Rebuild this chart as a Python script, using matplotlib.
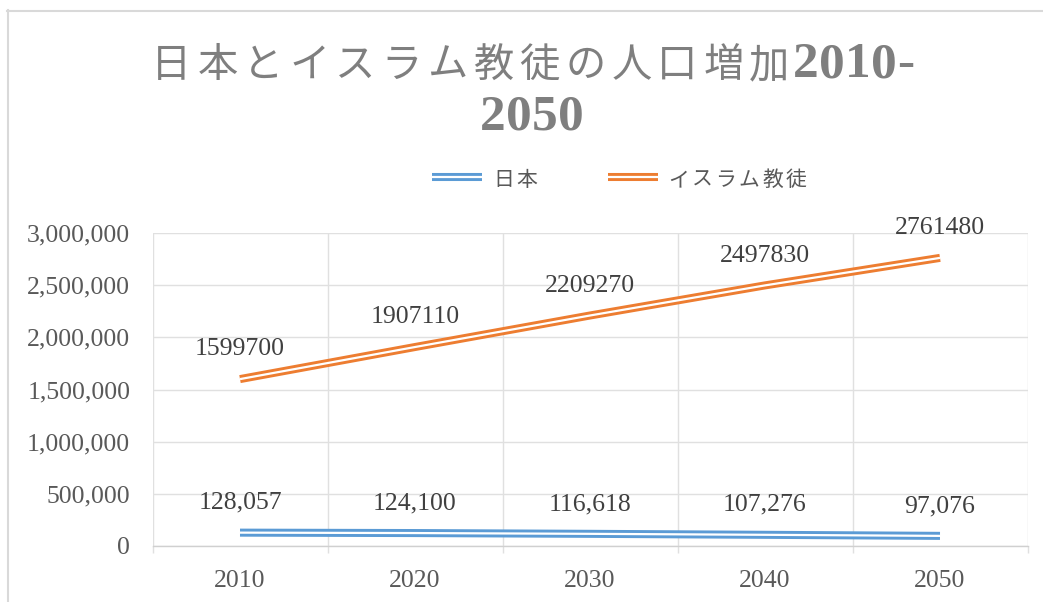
import numpy as np
import matplotlib
matplotlib.use('Agg')
import matplotlib.pyplot as plt
from matplotlib.lines import Line2D
from matplotlib.ticker import FuncFormatter

plt.rcParams['font.family'] = ['Liberation Serif', 'Noto Sans CJK JP']

years = ['2010', '2020', '2030', '2040', '2050']
japan = [128057, 124100, 116618, 107276, 97076]
islam = [1599700, 1907110, 2209270, 2497830, 2761480]
series_names = ['日本', 'イスラム教徒']
title_lines = ['日本とイスラム教徒の人口増加2010-', '2050']

BLUE = '#5b9bd5'
ORANGE = '#ed7d31'
GRID = '#e0e0e0'
W, H = 1043, 602

fig = plt.figure(figsize=(W / 100, H / 100), dpi=100)
ax = fig.add_axes([152.5 / W, 56 / H, 875 / W, 313 / H])

x = np.arange(len(years))


def double_line(ax, xs, ys, color, **kw):
    # excel style compound line: thick coloured stroke, white stroke on top
    ax.plot(xs, ys, color=color, lw=5.8, solid_capstyle='butt', zorder=3, **kw)
    ax.plot(xs, ys, color='white', lw=1.6, solid_capstyle='butt', zorder=4, **kw)


double_line(ax, x, japan, BLUE)
double_line(ax, x, islam, ORANGE)

for xi, v in zip(x, japan):
    ax.annotate(f'{v:,}', (xi, v), xytext=(0, 21.5), textcoords='offset points',
                ha='center', va='center', fontsize=18.5, color='#404040')
for xi, v in zip(x, islam):
    ax.annotate(f'{v}', (xi, v), xytext=(0, 21.5), textcoords='offset points',
                ha='center', va='center', fontsize=18.5, color='#404040')

ax.set_ylim(0, 3000000)
ax.set_yticks(np.arange(0, 3000001, 500000))
ax.yaxis.set_major_formatter(FuncFormatter(lambda v, p: f'{v:,.0f}'))
ax.set_xlim(-0.5, len(years) - 0.5)
ax.set_xticks(x)
ax.set_xticklabels(years)
ax.set_xticks(np.arange(-0.5, len(years)), minor=True)

ax.tick_params(axis='y', length=0, pad=16, labelsize=18.5, labelcolor='#595959')
ax.tick_params(axis='x', which='major', length=0, pad=17, labelsize=18.5, labelcolor='#595959')
ax.tick_params(axis='x', which='minor', length=5, width=1, color=GRID, direction='out')

ax.grid(axis='y', color=GRID, lw=1)
ax.grid(axis='x', which='minor', color=GRID, lw=1)
ax.set_axisbelow(True)
for s in ['top', 'left', 'right']:
    ax.spines[s].set_visible(False)
ax.spines['bottom'].set_color('#d0d0d0')
ax.spines['bottom'].set_linewidth(1)


def spaced_text(s, x0, baseline, cjk_pitch, asc_pitch, cjk_size, asc_size,
                color, asc_weight='normal', center=True):
    pitches = []
    for ch in s:
        if ord(ch) > 255:
            pitches.append(cjk_pitch)
        elif ch == '-':
            pitches.append(asc_pitch * 0.7)
        else:
            pitches.append(asc_pitch)
    if center:
        x0 = x0 - sum(pitches) / 2
    for ch, p in zip(s, pitches):
        cjk = ord(ch) > 255
        fig.text((x0 + p / 2) / W, 1 - baseline / H, ch, ha='center', va='baseline',
                 color=color, fontsize=cjk_size if cjk else asc_size,
                 fontweight='normal' if cjk else asc_weight,
                 family=['Noto Sans CJK JP'] if cjk else ['Liberation Serif'])
        x0 += p


# title
spaced_text(title_lines[0], 531.5, 77, 46, 26, 29, 37, '#7f7f7f', 'bold')
spaced_text(title_lines[1], 531.5, 130, 46, 26, 29, 37, '#7f7f7f', 'bold')

# legend
legend_items = [(series_names[0], BLUE, 432, 492), (series_names[1], ORANGE, 608, 667)]
for name, color, lx, tx in legend_items:
    for lw, c in [(5.8, color), (1.6, 'white')]:
        fig.add_artist(Line2D([lx / W, (lx + 50) / W], [1 - 177 / H, 1 - 177 / H],
                              color=c, lw=lw, solid_capstyle='butt',
                              transform=fig.transFigure))
    spaced_text(name, tx, 186, 23.5, 12, 15, 15, '#595959', center=False)

# chart border
fig.add_artist(Line2D([7 / W, 1], [1 - 10.5 / H, 1 - 10.5 / H], color='#d9d9d9', lw=1.5,
                      transform=fig.transFigure))
fig.add_artist(Line2D([7.5 / W, 7.5 / W], [0, 1 - 10 / H], color='#d9d9d9', lw=1.5,
                      transform=fig.transFigure))

fig.savefig('out.png', dpi=100)
